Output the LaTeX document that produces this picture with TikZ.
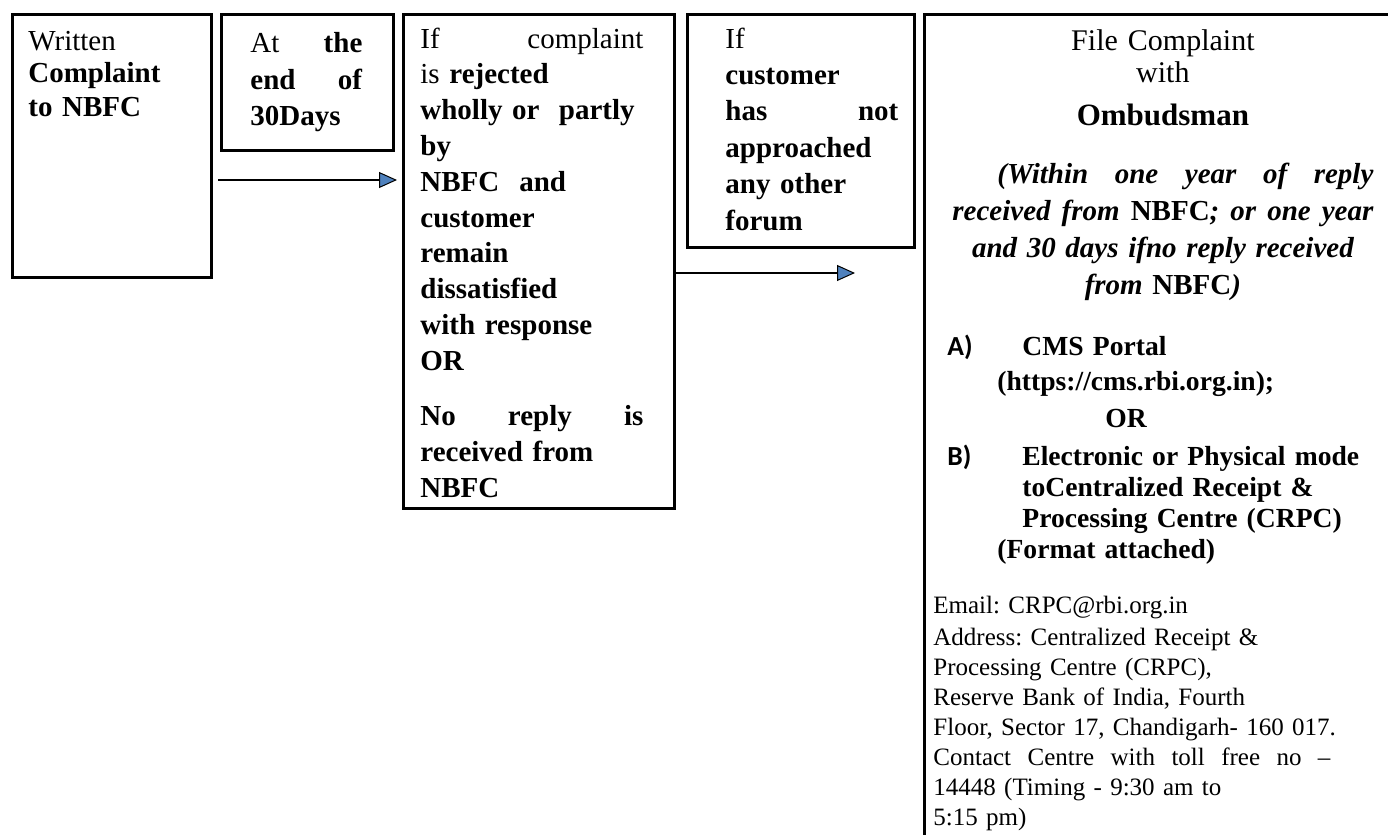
\documentclass[tikz,border=0pt]{standalone}
\usepackage{fontspec}
\setmainfont{Liberation Serif}
\newfontfamily\labelfont{Carlito}
\usetikzlibrary{arrows.meta}
\definecolor{arrowblue}{RGB}{79,129,189}

\begin{document}
\begin{tikzpicture}[x=0.5pt,y=-0.5pt]
\tikzstyle{box}=[draw,line width=1.5pt,anchor=north west,inner sep=0pt]
\tikzstyle{boxtext}=[anchor=base west,inner sep=0pt,align=left]
\tikzstyle{flow}=[line width=1.1pt,-{Triangle[length=9pt,width=8pt,fill=arrowblue,line width=0.5pt]}]

\useasboundingbox (0,0) rectangle (1388,835);
\fill[white] (0,0) rectangle (1388,835);
\clip (0,0) rectangle (1388,835);

%% Draw the steps
\node[box,minimum width=99.5pt,minimum height=131.5pt] (box1) at (11,13) {};
\node[box,minimum width=86pt,minimum height=68pt] (box2) at (220,13) {};
\node[box,minimum width=135.5pt,minimum height=247pt] (box3) at (402,13) {};
\node[box,minimum width=113.5pt,minimum height=116.5pt] (box4) at (686,13) {};
\node[box,minimum width=300pt,minimum height=450pt] (box5) at (923,13) {};

%% Texts of the steps
\node[boxtext,text width=85pt,font=\fontsize{14.5}{16.5}\selectfont] (written) at (28,50)
    {Written\\ \textbf{Complaint}\\ \textbf{to NBFC}};
\node[boxtext,text width=56pt,font=\fontsize{14.5}{18}\selectfont] (days) at (250,53)
    {At\hfill\textbf{the}\\ \textbf{end\hfill of}\\ \textbf{30Days}};
\node[boxtext,text width=111.5pt,font=\fontsize{14.5}{17.9}\selectfont] (rejected) at (420,48)
    {If\hfill complaint\\ is \bfseries rejected\\ wholly or\ \ partly\\ by\\
     NBFC\hspace{10pt}and\\ customer\\ remain\\ dissatisfied\\ with response\\ OR\\[10pt]
     No\hfill reply\hfill is\\ received from\\ NBFC};
\node[boxtext,text width=86.5pt,font=\fontsize{14.5}{18.2}\selectfont] (forum) at (725,48)
    {If\\ \bfseries customer\\ has\hfill not\\ approached\\ any other\\ forum};

%% Ombudsman box
\node[boxtext,align=center,text width=210.5pt,font=\fontsize{15}{16}\selectfont] (head) at (952,50)
    {File Complaint\\ with\\[5.5pt] {\fontsize{15.5}{16}\selectfont\bfseries Ombudsman}};
\node[boxtext,align=center,text width=210.5pt,font=\fontsize{14.5}{18.5}\selectfont\bfseries\itshape] (within) at (952,183)
    {\hspace*{22.5pt}(Within\hfill one\hfill year\hfill of\hfill reply\\
     received\hfill from\hfill \textup{NBFC};\hfill or\hfill one\hfill year\\
     and 30 days ifno reply received\\ from \textup{NBFC})};
\node[boxtext,text width=215pt,font=\fontsize{13.8}{15.5}\selectfont\bfseries] (modes) at (947,355)
    {\makebox[37.5pt][l]{\labelfont A)}CMS Portal\\[2pt]
     \hspace*{25pt}(https://cms.rbi.org.in);\\[3pt]
     \hspace*{79pt}OR\\[3.5pt]
     \makebox[37.5pt][l]{\labelfont B)}Electronic or Physical mode\\
     \hspace*{37.5pt}toCentralized Receipt \&\\
     \hspace*{37.5pt}Processing Centre (CRPC)\\
     \hspace*{25pt}(Format attached)};
\node[boxtext,text width=215pt,font=\fontsize{12.5}{15}\selectfont\frenchspacing] (contact) at (933,613)
    {Email: CRPC@rbi.org.in\\[1pt] Address: Centralized Receipt \&\\ Processing Centre (CRPC),\\
     Reserve Bank of India, Fourth\\ Floor, Sector 17, Chandigarh- 160 017.\\
     \makebox[198.5pt][l]{Contact\hfill Centre\hfill with\hfill toll\hfill free\hfill no\hfill --}\\
     14448 (Timing - 9:30 am to\\ 5:15 pm)};

%% Arrows between the steps
\coordinate (stop2) at (855,273);
\draw[flow] ([xshift=2.5pt]box1.east |- 0,180) -- ([xshift=-2.5pt]box3.west |- 0,180);
\draw[flow] (box3.east |- stop2) -- (stop2);

\end{tikzpicture}
\end{document}
